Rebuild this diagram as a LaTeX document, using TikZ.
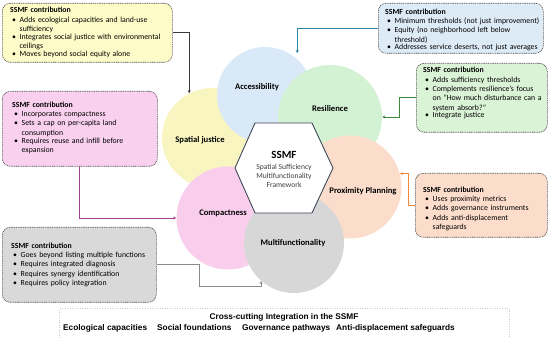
\documentclass[tikz,border=0pt]{standalone}
\usepackage{fontspec}
\setmainfont{Carlito}
\newfontfamily\stripfont{Liberation Sans}
\usetikzlibrary{arrows.meta}
\definecolor{cSJ}{HTML}{F8F5C1}
\definecolor{cAC}{HTML}{DAE9F7}
\definecolor{cRE}{HTML}{D3F1D3}
\definecolor{cPR}{HTML}{FCDDCB}
\definecolor{cCO}{HTML}{F9CEEC}
\definecolor{cMF}{HTML}{D7D7D7}
\definecolor{bY}{HTML}{FDFBC8}
\definecolor{bB}{HTML}{DDEBF7}
\definecolor{bG}{HTML}{DAF2D5}
\definecolor{bP}{HTML}{FAD0EF}
\definecolor{bO}{HTML}{FCDDCC}
\definecolor{bM}{HTML}{D9D9D9}
\definecolor{lnY}{HTML}{3A3A3A}
\definecolor{lnB}{HTML}{2E86A8}
\definecolor{lnG}{HTML}{3B8A3B}
\definecolor{lnO}{HTML}{F08A3E}
\definecolor{lnP}{HTML}{9E3F8A}
\definecolor{lnM}{HTML}{8A8A8A}
\definecolor{bdr}{HTML}{505050}
\definecolor{hexb}{HTML}{3B4656}
\definecolor{subt}{HTML}{404040}
\definecolor{strb}{HTML}{C8C8C8}
\newcommand\bitem[1]{\par\noindent\makebox[9.5pt][l]{\hspace{2pt}\textbullet}\parbox[t]{220pt}{#1}}
\begin{document}
\begin{tikzpicture}[x=1pt,y=-1pt,
  circ/.style={circle, inner sep=0, minimum size=#1},
  lbl/.style={font=\fontsize{8.6}{9}\selectfont\bfseries, inner sep=0},
  cbox/.style={draw=bdr, line width=0.6pt, dash pattern=on 1.1pt off 0.7pt, rounded corners=8pt, anchor=north west, inner sep=0},
  btext/.style={anchor=north west, inner sep=0, align=left, text width=240pt, font=\fontsize{7.8}{9.4}\selectfont},
  conn/.style={line width=0.75pt, -{Stealth[length=3.2pt,width=3pt]}},
  stxt/.style={inner sep=0, font=\stripfont\bfseries\fontsize{8.3}{9}\selectfont}]
\useasboundingbox (0,0) rectangle (550,339);
% circles
\node[circ=100pt, fill=cSJ] (sj) at (212,138) {};
\node[circ=96pt, fill=cAC] (acc) at (265,95) {};
\node[circ=104pt, fill=cRE] (res) at (330,117) {};
\node[circ=103pt, fill=cPR] (prox) at (350,187) {};
\node[circ=103pt, fill=cCO] (comp) at (228,218) {};
\node[circ=100pt, fill=cMF] (mf) at (294,243) {};
% hexagon
\draw[draw=hexb, line width=0.9pt, fill=white] (235,168) -- (255,123) -- (312,123) -- (333,168) -- (312,213) -- (255,213) -- cycle;
\node[font=\fontsize{11}{12}\selectfont\bfseries, inner sep=0] (hext) at (284,155) {SSMF};
\node[font=\fontsize{7.6}{9.2}\selectfont, text=subt, align=center, inner sep=0] (hexs) at (284,176) {Spatial Sufficiency\\Multifunctionality\\Framework};
% labels
\node[lbl] (sjl) at (200,140) {Spatial justice};
\node[lbl] (accl) at (257,87) {Accessibility};
\node[lbl] (resl) at (330,109) {Resilience};
\node[lbl] (proxl) at (363,191) {Proximity Planning};
\node[lbl] (compl) at (223,213) {Compactness};
\node[lbl] (mfl) at (293,243) {Multifunctionality};
% boxes
\node[cbox, fill=bY, minimum width=170pt, minimum height=59pt] (ybox) at (2,3) {};
\node[btext] (ytxt) at ([shift={(8,4)}]ybox.north west) {\textbf{SSMF contribution}\bitem{Adds ecological capacities and land-use\\sufficiency}\bitem{Integrates social justice with environmental\\ceilings}\bitem{Moves beyond social equity alone}};
\node[cbox, fill=bB, minimum width=165pt, minimum height=50pt] (bbox) at (378,3) {};
\node[btext] (btxt) at ([shift={(7,5.5)}]bbox.north west) {\textbf{SSMF contribution}\bitem{Minimum thresholds (not just improvement)}\bitem{Equity (no neighborhood left below\\threshold)}\bitem{Addresses service deserts, not just averages}};
\node[cbox, fill=bG, minimum width=131pt, minimum height=69pt] (gbox) at (416,63) {};
\node[btext] (gtxt) at ([shift={(7,4)}]gbox.north west) {\textbf{SSMF contribution}\bitem{Adds sufficiency thresholds}\bitem{Complements resilience's focus\\on "How much disturbance can a\\system absorb?"}\bitem{Integrate justice}};
\node[cbox, fill=bP, minimum width=155pt, minimum height=75pt] (pbox) at (2,91) {};
\node[btext] (ptxt) at ([shift={(10,10.5)}]pbox.north west) {\textbf{SSMF contribution}\bitem{Incorporates compactness}\bitem{Sets a cap on per-capita land\\consumption}\bitem{Requires reuse and infill before\\expansion}};
\node[cbox, fill=bO, minimum width=132pt, minimum height=64pt] (obox) at (415,173) {};
\node[btext] (otxt) at ([shift={(8,13.5)}]obox.north west) {\textbf{SSMF contribution}\bitem{Uses proximity metrics}\bitem{Adds governance instruments}\bitem{Adds anti-displacement\\safeguards}};
\node[cbox, fill=bM, minimum width=154pt, minimum height=75pt] (mbox) at (2,227) {};
\node[btext] (mtxt) at ([shift={(9,15.5)}]mbox.north west) {\textbf{SSMF contribution}\bitem{Goes beyond listing multiple functions}\bitem{Requires integrated diagnosis}\bitem{Requires synergy identification}\bitem{Requires policy integration}};
% connectors
\draw[conn, lnY] (ybox.east) -| (sj.117);
\draw[conn, lnB, shorten >=6pt] (bbox.west) -| (acc.48);
\draw[conn, lnG] (gbox.west) -- ++(-17,0) |- (res.east);
\draw[conn, lnO] (obox.west) -- ++(-7,0) |- (prox.15);
\draw[conn, lnP] (pbox.south) |- (comp.west);
\draw[conn, lnM] (mbox.east) -- ++(43,0) -- ++(0,22) -| (mf.229);
% strip
\node[draw=strb, dotted, line width=0.5pt, anchor=north west, minimum width=450pt, minimum height=31pt, inner sep=0] (strip) at (59,308) {};
\node[stxt] (st) at (284,317) {Cross-cutting Integration in the SSMF};
\node[stxt, anchor=west] (s1) at (63,328) {Ecological capacities};
\node[stxt, anchor=west] (s2) at (157,328) {Social foundations};
\node[stxt, anchor=west] (s3) at (242,328) {Governance pathways};
\node[stxt, anchor=west] (s4) at (336,328) {Anti-displacement safeguards};
\end{tikzpicture}
\end{document}
